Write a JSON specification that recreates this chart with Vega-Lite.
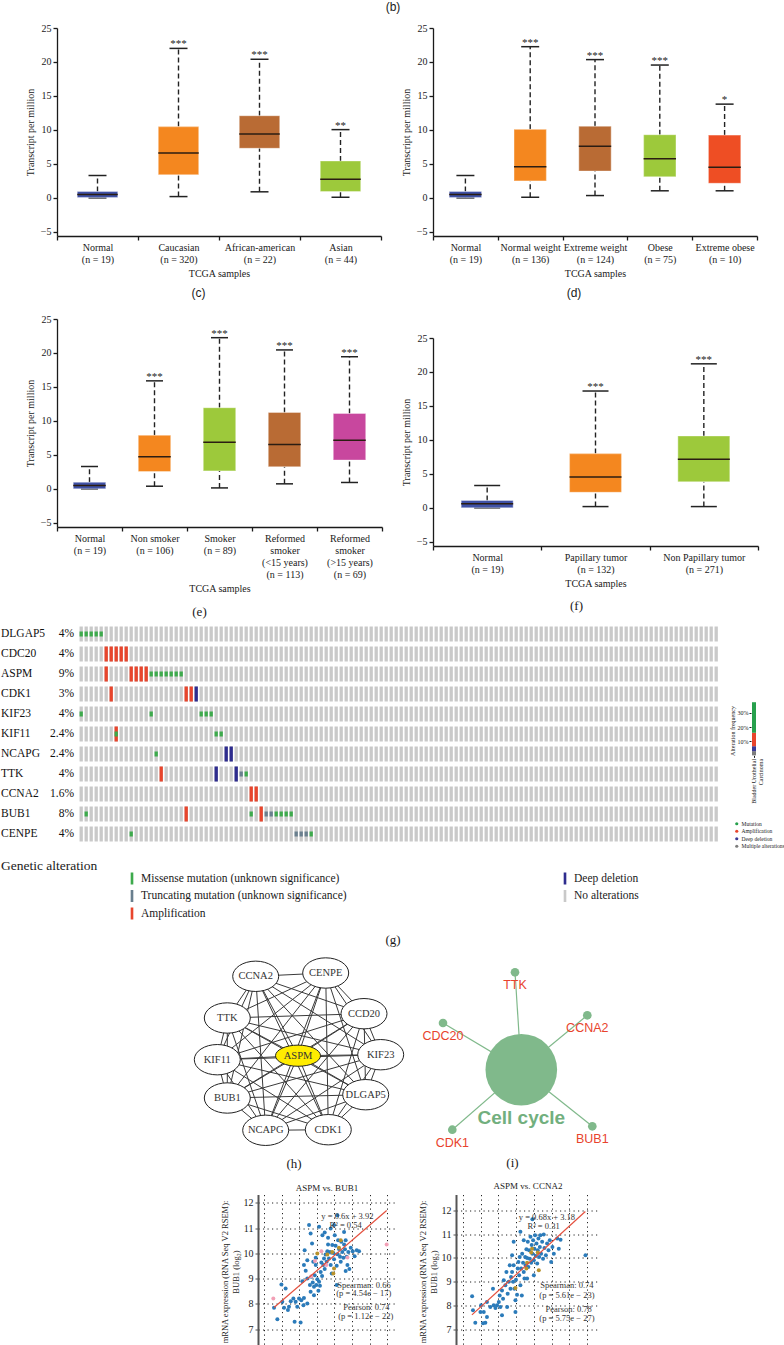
{
"$schema":"https://vega.github.io/schema/vega-lite/v6.json",
"padding":0,
"background":"white",
"title":{"text":"(b)","font":"Liberation Sans","fontSize":12,"anchor":"middle","offset":9},
"spacing":3,
"resolve":{"scale":{"color":"independent"},"legend":{"color":"independent"}},
"datasets":{
"bc":[
{"g":"Normal|(n = 19)","lo":0,"q1":0.05,"med":0.5,"q3":0.95,"hi":3.3,"sig":""},
{"g":"Caucasian|(n = 320)","lo":0.2,"q1":3.4,"med":6.6,"q3":10.5,"hi":22.0,"sig":"***"},
{"g":"African-american|(n = 22)","lo":0.9,"q1":7.3,"med":9.4,"q3":12.1,"hi":20.4,"sig":"***"},
{"g":"Asian|(n = 44)","lo":0.1,"q1":0.95,"med":2.75,"q3":5.45,"hi":10.05,"sig":"**"}],
"bd":[
{"g":"Normal|(n = 19)","lo":0,"q1":0.05,"med":0.5,"q3":0.95,"hi":3.3,"sig":""},
{"g":"Normal weight|(n = 136)","lo":0.1,"q1":2.5,"med":4.6,"q3":10.1,"hi":22.25,"sig":"***"},
{"g":"Extreme weight|(n = 124)","lo":0.35,"q1":3.95,"med":7.6,"q3":10.55,"hi":20.35,"sig":"***"},
{"g":"Obese|(n = 75)","lo":1.05,"q1":3.1,"med":5.75,"q3":9.3,"hi":19.55,"sig":"***"},
{"g":"Extreme obese|(n = 10)","lo":1.05,"q1":2.15,"med":4.5,"q3":9.25,"hi":13.8,"sig":"*"}],
"be":[
{"g":"Normal|(n = 19)","lo":0,"q1":0.02,"med":0.5,"q3":0.98,"hi":3.3,"sig":""},
{"g":"Non smoker|(n = 106)","lo":0.4,"q1":2.55,"med":4.75,"q3":7.9,"hi":15.9,"sig":"***"},
{"g":"Smoker|(n = 89)","lo":0.15,"q1":2.65,"med":6.85,"q3":11.95,"hi":22.25,"sig":"***"},
{"g":"Reformed|smoker|(<15 years)|(n = 113)","lo":0.75,"q1":3.25,"med":6.55,"q3":11.25,"hi":20.45,"sig":"***"},
{"g":"Reformed|smoker|(>15 years)|(n = 69)","lo":0.95,"q1":4.25,"med":7.15,"q3":11.1,"hi":19.45,"sig":"***"}],
"bf":[
{"g":"Normal|(n = 19)","lo":0,"q1":0.02,"med":0.6,"q3":1.1,"hi":3.3,"sig":""},
{"g":"Papillary tumor|(n = 132)","lo":0.2,"q1":2.3,"med":4.55,"q3":8.0,"hi":17.2,"sig":"***"},
{"g":"Non Papillary tumor|(n = 271)","lo":0.2,"q1":3.85,"med":7.15,"q3":10.6,"hi":21.2,"sig":"***"}],
"genes":[{"gene":"DLGAP5","pct":"4%"},{"gene":"CDC20","pct":"4%"},{"gene":"ASPM","pct":"9%"},{"gene":"CDK1","pct":"3%"},{"gene":"KIF23","pct":"4%"},{"gene":"KIF11","pct":"2.4%"},{"gene":"NCAPG","pct":"2.4%"},{"gene":"TTK","pct":"4%"},{"gene":"CCNA2","pct":"1.6%"},{"gene":"BUB1","pct":"8%"},{"gene":"CENPE","pct":"4%"}],
"alts":[
{"gene":"DLGAP5","s":0,"t":"Missense"},{"gene":"DLGAP5","s":1,"t":"Missense"},{"gene":"DLGAP5","s":2,"t":"Missense"},{"gene":"DLGAP5","s":3,"t":"Missense"},{"gene":"DLGAP5","s":4,"t":"Missense"},
{"gene":"CDC20","s":5,"t":"Amplification"},{"gene":"CDC20","s":6,"t":"Amplification"},{"gene":"CDC20","s":7,"t":"Amplification"},{"gene":"CDC20","s":8,"t":"Amplification"},{"gene":"CDC20","s":9,"t":"Amplification"},
{"gene":"ASPM","s":5,"t":"Amplification"},{"gene":"ASPM","s":10,"t":"Amplification"},{"gene":"ASPM","s":11,"t":"Amplification"},{"gene":"ASPM","s":12,"t":"Amplification"},{"gene":"ASPM","s":13,"t":"Amplification"},
{"gene":"ASPM","s":14,"t":"Missense"},{"gene":"ASPM","s":15,"t":"Missense"},{"gene":"ASPM","s":16,"t":"Missense"},{"gene":"ASPM","s":17,"t":"Missense"},{"gene":"ASPM","s":18,"t":"Missense"},{"gene":"ASPM","s":19,"t":"Missense"},{"gene":"ASPM","s":20,"t":"Missense"},
{"gene":"CDK1","s":6,"t":"Amplification"},{"gene":"CDK1","s":21,"t":"Amplification"},{"gene":"CDK1","s":22,"t":"Amplification"},{"gene":"CDK1","s":23,"t":"Deep deletion"},
{"gene":"KIF23","s":0,"t":"Missense"},{"gene":"KIF23","s":14,"t":"Missense"},{"gene":"KIF23","s":24,"t":"Missense"},{"gene":"KIF23","s":25,"t":"Missense"},{"gene":"KIF23","s":26,"t":"Missense"},
{"gene":"KIF11","s":7,"t":"Amplification"},{"gene":"KIF11","s":7,"t":"Missense"},{"gene":"KIF11","s":27,"t":"Missense"},{"gene":"KIF11","s":28,"t":"Missense"},
{"gene":"NCAPG","s":15,"t":"Missense"},{"gene":"NCAPG","s":29,"t":"Deep deletion"},{"gene":"NCAPG","s":30,"t":"Deep deletion"},
{"gene":"TTK","s":16,"t":"Amplification"},{"gene":"TTK","s":27,"t":"Deep deletion"},{"gene":"TTK","s":31,"t":"Deep deletion"},{"gene":"TTK","s":32,"t":"Truncating"},{"gene":"TTK","s":33,"t":"Missense"},
{"gene":"CCNA2","s":34,"t":"Amplification"},{"gene":"CCNA2","s":35,"t":"Amplification"},
{"gene":"BUB1","s":1,"t":"Missense"},{"gene":"BUB1","s":21,"t":"Amplification"},{"gene":"BUB1","s":34,"t":"Missense"},{"gene":"BUB1","s":36,"t":"Amplification"},{"gene":"BUB1","s":37,"t":"Truncating"},{"gene":"BUB1","s":38,"t":"Truncating"},{"gene":"BUB1","s":39,"t":"Missense"},{"gene":"BUB1","s":40,"t":"Missense"},{"gene":"BUB1","s":41,"t":"Missense"},{"gene":"BUB1","s":42,"t":"Missense"},
{"gene":"CENPE","s":10,"t":"Missense"},{"gene":"CENPE","s":43,"t":"Truncating"},{"gene":"CENPE","s":44,"t":"Truncating"},{"gene":"CENPE","s":45,"t":"Truncating"},{"gene":"CENPE","s":46,"t":"Missense"}],
"nodes":[{"n":"CCNA2","x":61.7,"y":20.3},{"n":"CENPE","x":131.7,"y":17},{"n":"CCD20","x":170,"y":57.7},{"n":"KIF23","x":186.7,"y":98.7},{"n":"DLGAP5","x":171.7,"y":138.7},{"n":"CDK1","x":134.3,"y":173.7},{"n":"NCAPG","x":71.7,"y":174.3},{"n":"BUB1","x":33.3,"y":142},{"n":"KIF11","x":23.3,"y":103.7},{"n":"TTK","x":33.3,"y":62},{"n":"ASPM","x":104,"y":99.7}],
"edges":[
{"a":"CCNA2","b":"CENPE"},{"a":"CCNA2","b":"CCD20"},{"a":"CCNA2","b":"KIF23"},{"a":"CCNA2","b":"DLGAP5"},{"a":"CCNA2","b":"CDK1"},{"a":"CCNA2","b":"NCAPG"},{"a":"CCNA2","b":"BUB1"},{"a":"CCNA2","b":"KIF11"},{"a":"CCNA2","b":"TTK"},{"a":"CCNA2","b":"ASPM"},
{"a":"CENPE","b":"CCD20"},{"a":"CENPE","b":"KIF23"},{"a":"CENPE","b":"DLGAP5"},{"a":"CENPE","b":"CDK1"},{"a":"CENPE","b":"NCAPG"},{"a":"CENPE","b":"BUB1"},{"a":"CENPE","b":"KIF11"},{"a":"CENPE","b":"TTK"},{"a":"CENPE","b":"ASPM"},
{"a":"CCD20","b":"KIF23"},{"a":"CCD20","b":"DLGAP5"},{"a":"CCD20","b":"CDK1"},{"a":"CCD20","b":"NCAPG"},{"a":"CCD20","b":"BUB1"},{"a":"CCD20","b":"KIF11"},{"a":"CCD20","b":"TTK"},{"a":"CCD20","b":"ASPM"},
{"a":"KIF23","b":"DLGAP5"},{"a":"KIF23","b":"CDK1"},{"a":"KIF23","b":"NCAPG"},{"a":"KIF23","b":"BUB1"},{"a":"KIF23","b":"KIF11"},{"a":"KIF23","b":"TTK"},{"a":"KIF23","b":"ASPM"},
{"a":"DLGAP5","b":"CDK1"},{"a":"DLGAP5","b":"NCAPG"},{"a":"DLGAP5","b":"BUB1"},{"a":"DLGAP5","b":"KIF11"},{"a":"DLGAP5","b":"TTK"},{"a":"DLGAP5","b":"ASPM"},
{"a":"CDK1","b":"NCAPG"},{"a":"CDK1","b":"BUB1"},{"a":"CDK1","b":"KIF11"},{"a":"CDK1","b":"TTK"},{"a":"CDK1","b":"ASPM"},
{"a":"NCAPG","b":"BUB1"},{"a":"NCAPG","b":"KIF11"},{"a":"NCAPG","b":"TTK"},{"a":"NCAPG","b":"ASPM"},
{"a":"BUB1","b":"KIF11"},{"a":"BUB1","b":"TTK"},{"a":"BUB1","b":"ASPM"},
{"a":"KIF11","b":"TTK"},{"a":"KIF11","b":"ASPM"},
{"a":"TTK","b":"ASPM"}],
"hub":[{"term":"Cell cycle","x":97.3,"y":113.7}],
"cc":[{"gene":"TTK","x":91,"y":16.3},{"gene":"CDC20","x":19,"y":67},{"gene":"CCNA2","x":163.3,"y":59.3},{"gene":"CDK1","x":28.3,"y":173.7},{"gene":"BUB1","x":168.3,"y":170.3}],
"scL":[
{"x":6.57,"y":7.85,"c":"n"},{"x":6.76,"y":7.4,"c":"n"},{"x":6.99,"y":8.77,"c":"n"},{"x":7.04,"y":8.09,"c":"n"},{"x":7.14,"y":7.85,"c":"n"},{"x":7.23,"y":8.61,"c":"n"},{"x":7.36,"y":7.76,"c":"n"},{"x":7.42,"y":7.89,"c":"n"},{"x":7.52,"y":8.11,"c":"n"},{"x":7.67,"y":8.22,"c":"n"},{"x":7.74,"y":7.3,"c":"n"},{"x":7.8,"y":8.09,"c":"n"},{"x":7.89,"y":7.89,"c":"n"},{"x":7.99,"y":8.22,"c":"n"},{"x":8.08,"y":7.27,"c":"n"},{"x":8.12,"y":8.15,"c":"n"},{"x":8.24,"y":7.95,"c":"n"},{"x":8.27,"y":8.24,"c":"n"},{"x":8.18,"y":8.9,"c":"n"},{"x":8.37,"y":9.31,"c":"n"},{"x":8.46,"y":9.01,"c":"n"},{"x":8.61,"y":8.75,"c":"n"},{"x":8.65,"y":8.48,"c":"n"},{"x":8.69,"y":9.08,"c":"n"},{"x":8.77,"y":8.85,"c":"n"},{"x":8.84,"y":8.68,"c":"n"},{"x":8.88,"y":9.14,"c":"n"},{"x":8.94,"y":9.54,"c":"n"},{"x":8.97,"y":8.75,"c":"n"},{"x":9.03,"y":8.98,"c":"n"},{"x":9.09,"y":8.52,"c":"n"},{"x":9.13,"y":8.88,"c":"n"},{"x":9.18,"y":8.72,"c":"n"},{"x":9.22,"y":9.27,"c":"n"},{"x":9.3,"y":9.11,"c":"n"},{"x":9.37,"y":9.54,"c":"n"},{"x":9.41,"y":9.8,"c":"n"},{"x":9.45,"y":9.38,"c":"n"},{"x":9.5,"y":9.96,"c":"n"},{"x":9.56,"y":9.67,"c":"n"},{"x":9.6,"y":10.09,"c":"n"},{"x":9.64,"y":10.35,"c":"n"},{"x":9.69,"y":9.8,"c":"n"},{"x":9.75,"y":10.06,"c":"n"},{"x":9.79,"y":9.54,"c":"n"},{"x":9.85,"y":9.21,"c":"n"},{"x":9.88,"y":10.33,"c":"n"},{"x":9.94,"y":10.02,"c":"n"},{"x":9.98,"y":9.77,"c":"n"},{"x":10.02,"y":10.72,"c":"n"},{"x":10.07,"y":10.3,"c":"n"},{"x":10.13,"y":9.51,"c":"n"},{"x":10.17,"y":9.97,"c":"n"},{"x":10.21,"y":10.52,"c":"n"},{"x":10.26,"y":10.17,"c":"n"},{"x":10.32,"y":9.87,"c":"n"},{"x":10.36,"y":9.67,"c":"n"},{"x":10.39,"y":10.46,"c":"n"},{"x":10.45,"y":10.06,"c":"n"},{"x":10.51,"y":9.83,"c":"n"},{"x":10.55,"y":10.35,"c":"n"},{"x":10.6,"y":10.16,"c":"n"},{"x":10.64,"y":10.52,"c":"n"},{"x":10.7,"y":9.87,"c":"n"},{"x":10.74,"y":9.54,"c":"n"},{"x":10.79,"y":10.06,"c":"n"},{"x":10.85,"y":9.38,"c":"n"},{"x":10.93,"y":10.22,"c":"n"},{"x":11.04,"y":10.09,"c":"n"},{"x":11.15,"y":9.89,"c":"n"},{"x":11.27,"y":10.13,"c":"n"},{"x":11.4,"y":10.09,"c":"n"},{"x":8.65,"y":10.79,"c":"n"},{"x":8.73,"y":10.39,"c":"n"},{"x":8.56,"y":11.12,"c":"n"},{"x":9.13,"y":11.05,"c":"n"},{"x":9.26,"y":9.64,"c":"n"},{"x":9.32,"y":10.72,"c":"n"},{"x":9.45,"y":10.83,"c":"n"},{"x":9.64,"y":10.62,"c":"n"},{"x":8.94,"y":9.83,"c":"n"},{"x":8.8,"y":9.67,"c":"n"},{"x":8.46,"y":9.73,"c":"n"},{"x":8.27,"y":9.54,"c":"n"},{"x":8.31,"y":10.13,"c":"n"},{"x":9.79,"y":10.99,"c":"n"},{"x":9.98,"y":11.12,"c":"n"},{"x":10.17,"y":11.51,"c":"n"},{"x":10.55,"y":10.85,"c":"n"},{"x":8.84,"y":8.35,"c":"n"},{"x":8.46,"y":8.02,"c":"n"},{"x":10.13,"y":8.75,"c":"n"},{"x":10.64,"y":9.3,"c":"n"},
{"x":9.03,"y":10.0,"c":"g"},{"x":9.6,"y":9.96,"c":"g"},{"x":9.88,"y":10.06,"c":"g"},{"x":10.36,"y":10.52,"c":"g"},{"x":9.98,"y":9.4,"c":"g"},{"x":9.94,"y":9.21,"c":"g"},{"x":10.26,"y":10.22,"c":"g"},
{"x":6.53,"y":8.22,"c":"p"},{"x":8.9,"y":9.7,"c":"p"},{"x":9.26,"y":10.09,"c":"p"},{"x":9.54,"y":9.54,"c":"p"},{"x":8.69,"y":9.1,"c":"p"},{"x":12.97,"y":10.35,"c":"p"},{"x":10.74,"y":9.84,"c":"p"}],
"scR":[
{"x":6.51,"y":8.38,"c":"n"},{"x":6.56,"y":7.79,"c":"n"},{"x":6.69,"y":7.27,"c":"n"},{"x":6.98,"y":7.72,"c":"n"},{"x":7.02,"y":8.0,"c":"n"},{"x":7.17,"y":7.72,"c":"n"},{"x":7.26,"y":7.27,"c":"n"},{"x":7.35,"y":7.51,"c":"n"},{"x":7.13,"y":7.25,"c":"n"},{"x":7.35,"y":8.14,"c":"n"},{"x":7.54,"y":7.93,"c":"n"},{"x":7.69,"y":8.7,"c":"n"},{"x":7.73,"y":8.0,"c":"n"},{"x":7.83,"y":7.89,"c":"n"},{"x":7.92,"y":8.0,"c":"n"},{"x":8.02,"y":8.14,"c":"n"},{"x":8.07,"y":8.42,"c":"n"},{"x":8.11,"y":7.93,"c":"n"},{"x":8.2,"y":8.63,"c":"n"},{"x":8.26,"y":8.28,"c":"n"},{"x":8.3,"y":9.06,"c":"n"},{"x":8.39,"y":8.85,"c":"n"},{"x":8.45,"y":9.41,"c":"n"},{"x":8.52,"y":8.49,"c":"n"},{"x":8.58,"y":8.99,"c":"n"},{"x":8.64,"y":9.69,"c":"n"},{"x":8.68,"y":8.7,"c":"n"},{"x":8.71,"y":9.2,"c":"n"},{"x":8.77,"y":9.41,"c":"n"},{"x":8.83,"y":8.99,"c":"n"},{"x":8.86,"y":9.69,"c":"n"},{"x":8.9,"y":8.7,"c":"n"},{"x":8.96,"y":8.21,"c":"n"},{"x":8.99,"y":9.08,"c":"n"},{"x":9.05,"y":8.45,"c":"n"},{"x":9.09,"y":9.55,"c":"n"},{"x":9.13,"y":9.83,"c":"n"},{"x":9.17,"y":9.27,"c":"n"},{"x":9.2,"y":10.04,"c":"n"},{"x":9.24,"y":8.85,"c":"n"},{"x":9.28,"y":9.55,"c":"n"},{"x":9.32,"y":8.42,"c":"n"},{"x":9.34,"y":10.18,"c":"n"},{"x":9.39,"y":9.8,"c":"n"},{"x":9.43,"y":9.41,"c":"n"},{"x":9.47,"y":9.13,"c":"n"},{"x":9.51,"y":10.04,"c":"n"},{"x":9.54,"y":9.69,"c":"n"},{"x":9.58,"y":10.37,"c":"n"},{"x":9.62,"y":10.0,"c":"n"},{"x":9.66,"y":10.68,"c":"n"},{"x":9.69,"y":9.62,"c":"n"},{"x":9.73,"y":10.32,"c":"n"},{"x":9.77,"y":9.97,"c":"n"},{"x":9.81,"y":10.89,"c":"n"},{"x":9.85,"y":9.8,"c":"n"},{"x":9.88,"y":10.54,"c":"n"},{"x":9.92,"y":10.18,"c":"n"},{"x":9.96,"y":10.75,"c":"n"},{"x":10.0,"y":9.9,"c":"n"},{"x":10.03,"y":10.39,"c":"n"},{"x":10.07,"y":10.96,"c":"n"},{"x":10.11,"y":10.08,"c":"n"},{"x":10.15,"y":10.61,"c":"n"},{"x":10.19,"y":9.76,"c":"n"},{"x":10.22,"y":10.32,"c":"n"},{"x":10.26,"y":10.82,"c":"n"},{"x":10.3,"y":10.04,"c":"n"},{"x":10.34,"y":10.46,"c":"n"},{"x":10.37,"y":10.96,"c":"n"},{"x":10.41,"y":10.18,"c":"n"},{"x":10.47,"y":10.68,"c":"n"},{"x":10.52,"y":9.97,"c":"n"},{"x":10.56,"y":10.99,"c":"n"},{"x":10.6,"y":10.42,"c":"n"},{"x":10.68,"y":10.11,"c":"n"},{"x":10.75,"y":10.61,"c":"n"},{"x":10.83,"y":10.32,"c":"n"},{"x":10.9,"y":10.75,"c":"n"},{"x":10.98,"y":9.83,"c":"n"},{"x":11.05,"y":10.46,"c":"n"},{"x":11.13,"y":10.18,"c":"n"},{"x":11.32,"y":10.82,"c":"n"},{"x":11.41,"y":10.39,"c":"n"},{"x":11.51,"y":10.77,"c":"n"},{"x":12.92,"y":10.11,"c":"n"},{"x":8.77,"y":10.11,"c":"n"},{"x":9.24,"y":11.1,"c":"n"},{"x":8.86,"y":10.68,"c":"n"},{"x":9.92,"y":11.63,"c":"n"},{"x":9.43,"y":10.75,"c":"n"},{"x":9.62,"y":9.13,"c":"n"},{"x":10.0,"y":9.27,"c":"n"},{"x":8.96,"y":7.72,"c":"n"},{"x":8.49,"y":7.93,"c":"n"},{"x":8.2,"y":7.58,"c":"n"},
{"x":9.58,"y":9.55,"c":"g"},{"x":9.85,"y":10.23,"c":"g"},{"x":9.9,"y":10.39,"c":"g"},{"x":10.22,"y":10.23,"c":"g"},{"x":10.28,"y":9.48,"c":"g"},{"x":8.96,"y":8.73,"c":"g"},{"x":9.62,"y":9.8,"c":"g"}],
"fitL":[{"x":6.57,"y":7.86},{"x":12.97,"y":11.7}],
"fitR":[{"x":6.5,"y":7.6},{"x":12.91,"y":11.96}],
"annL":[{"t":"y = 0.6x + 3.92","x":10.74,"y":11.49},{"t":"R² = 0.54","x":10.64,"y":11.12},{"t":"Spearman: 0.66","x":11.68,"y":8.77},{"t":"(p = 4.54e − 17)","x":11.67,"y":8.42},{"t":"Pearson: 0.74","x":11.82,"y":7.89},{"t":"(p = 1.12e − 22)","x":11.78,"y":7.52}],
"annR":[{"t":"y = 0.68x + 3.18","x":10.74,"y":11.73},{"t":"R² = 0.31","x":10.55,"y":11.35},{"t":"Spearman: 0.74","x":11.87,"y":8.85},{"t":"(p = 5.61e − 23)","x":11.87,"y":8.43},{"t":"Pearson: 0.78","x":11.97,"y":7.86},{"t":"(p = 5.75e − 27)","x":11.87,"y":7.47}]
},
"vconcat":[
{"hconcat":[
 {"width":7,"height":1,"data":{"values":[]},"mark":"point"},
 {"vconcat":[
  {"width":324,"height":208,
   "title":{"text":"(c)","orient":"bottom","font":"Liberation Sans","fontSize":12,"offset":10,"dx":-20.5},
   "data":{"name":"bc"},
   "encoding":{"x":{"field":"g","type":"nominal","sort":null,"scale":{"paddingInner":0,"paddingOuter":0},"axis":{"title":"TCGA samples","labelExpr":"isValid(datum.value) ? split(datum.value, '|') : ''","labelAngle":0,"tickBand":"extent","tickSize":4,"labelPadding":2,"labelFontSize":10,"labelLineHeight":12.3,"titleFontSize":10,"titlePadding":4,"domainWidth":1.3,"tickWidth":1.3,"labelOverlap":false}}},
   "layer":[
    {"mark":{"type":"rule","strokeDash":[5,3],"strokeWidth":1.4,"color":"#222"},"encoding":{"y":{"field":"q3","type":"quantitative","scale":{"domain":[-5.6,25],"nice":false},"title":"Transcript per million","axis":{"values":[-5,0,5,10,15,20,25],"tickSize":4,"labelPadding":2,"labelFontSize":10,"titleFontSize":10,"titlePadding":5,"domainWidth":1.3,"tickWidth":1.3,"labelOverlap":false}},"y2":{"field":"hi"}}},
    {"mark":{"type":"rule","strokeDash":[5,3],"strokeWidth":1.4,"color":"#222"},"encoding":{"y":{"field":"lo","type":"quantitative","scale":{"domain":[-5.6,25],"nice":false},"title":"Transcript per million","axis":{"values":[-5,0,5,10,15,20,25],"tickSize":4,"labelPadding":2,"labelFontSize":10,"titleFontSize":10,"titlePadding":5,"domainWidth":1.3,"tickWidth":1.3,"labelOverlap":false}},"y2":{"field":"q1"}}},
    {"mark":{"type":"tick","size":18,"thickness":1.5,"color":"#222","opacity":1},"encoding":{"y":{"field":"hi","type":"quantitative","scale":{"domain":[-5.6,25],"nice":false},"title":"Transcript per million","axis":{"values":[-5,0,5,10,15,20,25],"tickSize":4,"labelPadding":2,"labelFontSize":10,"titleFontSize":10,"titlePadding":5,"domainWidth":1.3,"tickWidth":1.3,"labelOverlap":false}}}},
    {"mark":{"type":"tick","size":18,"thickness":1.5,"color":"#222","opacity":1},"encoding":{"y":{"field":"lo","type":"quantitative","scale":{"domain":[-5.6,25],"nice":false},"title":"Transcript per million","axis":{"values":[-5,0,5,10,15,20,25],"tickSize":4,"labelPadding":2,"labelFontSize":10,"titleFontSize":10,"titlePadding":5,"domainWidth":1.3,"tickWidth":1.3,"labelOverlap":false}}}},
    {"mark":{"type":"bar","width":{"band":0.5},"stroke":"#ffffff","strokeOpacity":0.35,"strokeWidth":1.2},"encoding":{"y":{"field":"q1","type":"quantitative","scale":{"domain":[-5.6,25],"nice":false},"title":"Transcript per million","axis":{"values":[-5,0,5,10,15,20,25],"tickSize":4,"labelPadding":2,"labelFontSize":10,"titleFontSize":10,"titlePadding":5,"domainWidth":1.3,"tickWidth":1.3,"labelOverlap":false}},"y2":{"field":"q3"},"color":{"field":"g","type":"nominal","scale":{"domain":["Normal|(n = 19)","Caucasian|(n = 320)","African-american|(n = 22)","Asian|(n = 44)"],"range":["#3F51A6","#F4871F","#B96B34","#9DC93B"]},"legend":null}}},
    {"mark":{"type":"tick","size":40.5,"thickness":1.5,"color":"#2b1d12","opacity":1},"encoding":{"y":{"field":"med","type":"quantitative","scale":{"domain":[-5.6,25],"nice":false},"title":"Transcript per million","axis":{"values":[-5,0,5,10,15,20,25],"tickSize":4,"labelPadding":2,"labelFontSize":10,"titleFontSize":10,"titlePadding":5,"domainWidth":1.3,"tickWidth":1.3,"labelOverlap":false}}}},
    {"mark":{"type":"text","baseline":"alphabetic","dy":-1,"fontSize":11,"color":"#222"},"encoding":{"y":{"field":"hi","type":"quantitative","scale":{"domain":[-5.6,25],"nice":false},"title":"Transcript per million","axis":{"values":[-5,0,5,10,15,20,25],"tickSize":4,"labelPadding":2,"labelFontSize":10,"titleFontSize":10,"titlePadding":5,"domainWidth":1.3,"tickWidth":1.3,"labelOverlap":false}},"text":{"field":"sig"}}}
   ]},
  {"width":325,"height":208,
   "title":{"text":"(e)","orient":"bottom","fontSize":13,"offset":12,"dx":-20},
   "data":{"name":"be"},
   "encoding":{"x":{"field":"g","type":"nominal","sort":null,"scale":{"paddingInner":0,"paddingOuter":0},"axis":{"title":"TCGA samples","labelExpr":"isValid(datum.value) ? split(datum.value, '|') : ''","labelAngle":0,"tickBand":"extent","tickSize":4,"labelPadding":2,"labelFontSize":10,"labelLineHeight":12.2,"titleFontSize":10,"titlePadding":4,"domainWidth":1.3,"tickWidth":1.3,"labelOverlap":false}}},
   "layer":[
    {"mark":{"type":"rule","strokeDash":[5,3],"strokeWidth":1.4,"color":"#222"},"encoding":{"y":{"field":"q3","type":"quantitative","scale":{"domain":[-5.6,25],"nice":false},"title":"Transcript per million","axis":{"values":[-5,0,5,10,15,20,25],"tickSize":4,"labelPadding":2,"labelFontSize":10,"titleFontSize":10,"titlePadding":5,"domainWidth":1.3,"tickWidth":1.3,"labelOverlap":false}},"y2":{"field":"hi"}}},
    {"mark":{"type":"rule","strokeDash":[5,3],"strokeWidth":1.4,"color":"#222"},"encoding":{"y":{"field":"lo","type":"quantitative","scale":{"domain":[-5.6,25],"nice":false},"title":"Transcript per million","axis":{"values":[-5,0,5,10,15,20,25],"tickSize":4,"labelPadding":2,"labelFontSize":10,"titleFontSize":10,"titlePadding":5,"domainWidth":1.3,"tickWidth":1.3,"labelOverlap":false}},"y2":{"field":"q1"}}},
    {"mark":{"type":"tick","size":17,"thickness":1.5,"color":"#222","opacity":1},"encoding":{"y":{"field":"hi","type":"quantitative","scale":{"domain":[-5.6,25],"nice":false},"title":"Transcript per million","axis":{"values":[-5,0,5,10,15,20,25],"tickSize":4,"labelPadding":2,"labelFontSize":10,"titleFontSize":10,"titlePadding":5,"domainWidth":1.3,"tickWidth":1.3,"labelOverlap":false}}}},
    {"mark":{"type":"tick","size":17,"thickness":1.5,"color":"#222","opacity":1},"encoding":{"y":{"field":"lo","type":"quantitative","scale":{"domain":[-5.6,25],"nice":false},"title":"Transcript per million","axis":{"values":[-5,0,5,10,15,20,25],"tickSize":4,"labelPadding":2,"labelFontSize":10,"titleFontSize":10,"titlePadding":5,"domainWidth":1.3,"tickWidth":1.3,"labelOverlap":false}}}},
    {"mark":{"type":"bar","width":{"band":0.5},"stroke":"#ffffff","strokeOpacity":0.35,"strokeWidth":1.2},"encoding":{"y":{"field":"q1","type":"quantitative","scale":{"domain":[-5.6,25],"nice":false},"title":"Transcript per million","axis":{"values":[-5,0,5,10,15,20,25],"tickSize":4,"labelPadding":2,"labelFontSize":10,"titleFontSize":10,"titlePadding":5,"domainWidth":1.3,"tickWidth":1.3,"labelOverlap":false}},"y2":{"field":"q3"},"color":{"field":"g","type":"nominal","scale":{"domain":["Normal|(n = 19)","Non smoker|(n = 106)","Smoker|(n = 89)","Reformed|smoker|(<15 years)|(n = 113)","Reformed|smoker|(>15 years)|(n = 69)"],"range":["#3F51A6","#F4871F","#9DC93B","#B96B34","#C8479E"]},"legend":null}}},
    {"mark":{"type":"tick","size":32.5,"thickness":1.5,"color":"#2b1d12","opacity":1},"encoding":{"y":{"field":"med","type":"quantitative","scale":{"domain":[-5.6,25],"nice":false},"title":"Transcript per million","axis":{"values":[-5,0,5,10,15,20,25],"tickSize":4,"labelPadding":2,"labelFontSize":10,"titleFontSize":10,"titlePadding":5,"domainWidth":1.3,"tickWidth":1.3,"labelOverlap":false}}}},
    {"mark":{"type":"text","baseline":"alphabetic","dy":-1,"fontSize":11,"color":"#222"},"encoding":{"y":{"field":"hi","type":"quantitative","scale":{"domain":[-5.6,25],"nice":false},"title":"Transcript per million","axis":{"values":[-5,0,5,10,15,20,25],"tickSize":4,"labelPadding":2,"labelFontSize":10,"titleFontSize":10,"titlePadding":5,"domainWidth":1.3,"tickWidth":1.3,"labelOverlap":false}},"text":{"field":"sig"}}}
   ]}
 ],"spacing":13,"resolve":{"scale":{"color":"independent"},"legend":{"color":"independent"}}},
 {"vconcat":[
  {"width":324,"height":208,
   "title":{"text":"(d)","orient":"bottom","font":"Liberation Sans","fontSize":12,"offset":10,"dx":-21},
   "data":{"name":"bd"},
   "encoding":{"x":{"field":"g","type":"nominal","sort":null,"scale":{"paddingInner":0,"paddingOuter":0},"axis":{"title":"TCGA samples","labelExpr":"isValid(datum.value) ? split(datum.value, '|') : ''","labelAngle":0,"tickBand":"extent","tickSize":4,"labelPadding":2,"labelFontSize":10,"labelLineHeight":12.3,"titleFontSize":10,"titlePadding":4,"domainWidth":1.3,"tickWidth":1.3,"labelOverlap":false}}},
   "layer":[
    {"mark":{"type":"rule","strokeDash":[5,3],"strokeWidth":1.4,"color":"#222"},"encoding":{"y":{"field":"q3","type":"quantitative","scale":{"domain":[-5.6,25],"nice":false},"title":"Transcript per million","axis":{"values":[-5,0,5,10,15,20,25],"tickSize":4,"labelPadding":2,"labelFontSize":10,"titleFontSize":10,"titlePadding":5,"domainWidth":1.3,"tickWidth":1.3,"labelOverlap":false}},"y2":{"field":"hi"}}},
    {"mark":{"type":"rule","strokeDash":[5,3],"strokeWidth":1.4,"color":"#222"},"encoding":{"y":{"field":"lo","type":"quantitative","scale":{"domain":[-5.6,25],"nice":false},"title":"Transcript per million","axis":{"values":[-5,0,5,10,15,20,25],"tickSize":4,"labelPadding":2,"labelFontSize":10,"titleFontSize":10,"titlePadding":5,"domainWidth":1.3,"tickWidth":1.3,"labelOverlap":false}},"y2":{"field":"q1"}}},
    {"mark":{"type":"tick","size":18,"thickness":1.5,"color":"#222","opacity":1},"encoding":{"y":{"field":"hi","type":"quantitative","scale":{"domain":[-5.6,25],"nice":false},"title":"Transcript per million","axis":{"values":[-5,0,5,10,15,20,25],"tickSize":4,"labelPadding":2,"labelFontSize":10,"titleFontSize":10,"titlePadding":5,"domainWidth":1.3,"tickWidth":1.3,"labelOverlap":false}}}},
    {"mark":{"type":"tick","size":18,"thickness":1.5,"color":"#222","opacity":1},"encoding":{"y":{"field":"lo","type":"quantitative","scale":{"domain":[-5.6,25],"nice":false},"title":"Transcript per million","axis":{"values":[-5,0,5,10,15,20,25],"tickSize":4,"labelPadding":2,"labelFontSize":10,"titleFontSize":10,"titlePadding":5,"domainWidth":1.3,"tickWidth":1.3,"labelOverlap":false}}}},
    {"mark":{"type":"bar","width":{"band":0.5},"stroke":"#ffffff","strokeOpacity":0.35,"strokeWidth":1.2},"encoding":{"y":{"field":"q1","type":"quantitative","scale":{"domain":[-5.6,25],"nice":false},"title":"Transcript per million","axis":{"values":[-5,0,5,10,15,20,25],"tickSize":4,"labelPadding":2,"labelFontSize":10,"titleFontSize":10,"titlePadding":5,"domainWidth":1.3,"tickWidth":1.3,"labelOverlap":false}},"y2":{"field":"q3"},"color":{"field":"g","type":"nominal","scale":{"domain":["Normal|(n = 19)","Normal weight|(n = 136)","Extreme weight|(n = 124)","Obese|(n = 75)","Extreme obese|(n = 10)"],"range":["#3F51A6","#F4871F","#B96B34","#9DC93B","#EE4E24"]},"legend":null}}},
    {"mark":{"type":"tick","size":32.4,"thickness":1.5,"color":"#2b1d12","opacity":1},"encoding":{"y":{"field":"med","type":"quantitative","scale":{"domain":[-5.6,25],"nice":false},"title":"Transcript per million","axis":{"values":[-5,0,5,10,15,20,25],"tickSize":4,"labelPadding":2,"labelFontSize":10,"titleFontSize":10,"titlePadding":5,"domainWidth":1.3,"tickWidth":1.3,"labelOverlap":false}}}},
    {"mark":{"type":"text","baseline":"alphabetic","dy":-1,"fontSize":11,"color":"#222"},"encoding":{"y":{"field":"hi","type":"quantitative","scale":{"domain":[-5.6,25],"nice":false},"title":"Transcript per million","axis":{"values":[-5,0,5,10,15,20,25],"tickSize":4,"labelPadding":2,"labelFontSize":10,"titleFontSize":10,"titlePadding":5,"domainWidth":1.3,"tickWidth":1.3,"labelOverlap":false}},"text":{"field":"sig"}}}
   ]},
  {"width":325,"height":208,
   "title":{"text":"(f)","orient":"bottom","fontSize":13,"offset":12,"dx":-19},
   "data":{"name":"bf"},
   "encoding":{"x":{"field":"g","type":"nominal","sort":null,"scale":{"paddingInner":0,"paddingOuter":0},"axis":{"title":"TCGA samples","labelExpr":"isValid(datum.value) ? split(datum.value, '|') : ''","labelAngle":0,"tickBand":"extent","tickSize":4,"labelPadding":2,"labelFontSize":10,"labelLineHeight":12.3,"titleFontSize":10,"titlePadding":4,"domainWidth":1.3,"tickWidth":1.3,"labelOverlap":false}}},
   "layer":[
    {"mark":{"type":"rule","strokeDash":[5,3],"strokeWidth":1.4,"color":"#222"},"encoding":{"y":{"field":"q3","type":"quantitative","scale":{"domain":[-5.6,25],"nice":false},"title":"Transcript per million","axis":{"values":[-5,0,5,10,15,20,25],"tickSize":4,"labelPadding":2,"labelFontSize":10,"titleFontSize":10,"titlePadding":5,"domainWidth":1.3,"tickWidth":1.3,"labelOverlap":false}},"y2":{"field":"hi"}}},
    {"mark":{"type":"rule","strokeDash":[5,3],"strokeWidth":1.4,"color":"#222"},"encoding":{"y":{"field":"lo","type":"quantitative","scale":{"domain":[-5.6,25],"nice":false},"title":"Transcript per million","axis":{"values":[-5,0,5,10,15,20,25],"tickSize":4,"labelPadding":2,"labelFontSize":10,"titleFontSize":10,"titlePadding":5,"domainWidth":1.3,"tickWidth":1.3,"labelOverlap":false}},"y2":{"field":"q1"}}},
    {"mark":{"type":"tick","size":26,"thickness":1.5,"color":"#222","opacity":1},"encoding":{"y":{"field":"hi","type":"quantitative","scale":{"domain":[-5.6,25],"nice":false},"title":"Transcript per million","axis":{"values":[-5,0,5,10,15,20,25],"tickSize":4,"labelPadding":2,"labelFontSize":10,"titleFontSize":10,"titlePadding":5,"domainWidth":1.3,"tickWidth":1.3,"labelOverlap":false}}}},
    {"mark":{"type":"tick","size":26,"thickness":1.5,"color":"#222","opacity":1},"encoding":{"y":{"field":"lo","type":"quantitative","scale":{"domain":[-5.6,25],"nice":false},"title":"Transcript per million","axis":{"values":[-5,0,5,10,15,20,25],"tickSize":4,"labelPadding":2,"labelFontSize":10,"titleFontSize":10,"titlePadding":5,"domainWidth":1.3,"tickWidth":1.3,"labelOverlap":false}}}},
    {"mark":{"type":"bar","width":{"band":0.48},"stroke":"#ffffff","strokeOpacity":0.35,"strokeWidth":1.2},"encoding":{"y":{"field":"q1","type":"quantitative","scale":{"domain":[-5.6,25],"nice":false},"title":"Transcript per million","axis":{"values":[-5,0,5,10,15,20,25],"tickSize":4,"labelPadding":2,"labelFontSize":10,"titleFontSize":10,"titlePadding":5,"domainWidth":1.3,"tickWidth":1.3,"labelOverlap":false}},"y2":{"field":"q3"},"color":{"field":"g","type":"nominal","scale":{"domain":["Normal|(n = 19)","Papillary tumor|(n = 132)","Non Papillary tumor|(n = 271)"],"range":["#3F51A6","#F4871F","#9DC93B"]},"legend":null}}},
    {"mark":{"type":"tick","size":52,"thickness":1.5,"color":"#2b1d12","opacity":1},"encoding":{"y":{"field":"med","type":"quantitative","scale":{"domain":[-5.6,25],"nice":false},"title":"Transcript per million","axis":{"values":[-5,0,5,10,15,20,25],"tickSize":4,"labelPadding":2,"labelFontSize":10,"titleFontSize":10,"titlePadding":5,"domainWidth":1.3,"tickWidth":1.3,"labelOverlap":false}}}},
    {"mark":{"type":"text","baseline":"alphabetic","dy":-1,"fontSize":11,"color":"#222"},"encoding":{"y":{"field":"hi","type":"quantitative","scale":{"domain":[-5.6,25],"nice":false},"title":"Transcript per million","axis":{"values":[-5,0,5,10,15,20,25],"tickSize":4,"labelPadding":2,"labelFontSize":10,"titleFontSize":10,"titlePadding":5,"domainWidth":1.3,"tickWidth":1.3,"labelOverlap":false}},"text":{"field":"sig"}}}
   ]}
 ],"spacing":32,"resolve":{"scale":{"color":"independent"},"legend":{"color":"independent"}}}
],"spacing":16,"resolve":{"scale":{"color":"independent"},"legend":{"color":"independent"}}},
{"hconcat":[
 {"width":717,"height":220,
  "layer":[
   {"data":{"name":"genes"},"mark":{"type":"rule","strokeWidth":15,"strokeDash":[3.3,1.7],"color":"#c9c9c9"},"encoding":{"y":{"field":"gene","type":"nominal","sort":null,"scale":{"domain":["DLGAP5","CDC20","ASPM","CDK1","KIF23","KIF11","NCAPG","TTK","CCNA2","BUB1","CENPE"],"paddingInner":0.25,"paddingOuter":0.125},"axis":null},"x":{"datum":-0.33,"type":"quantitative","scale":{"domain":[-16.04,127.36],"nice":false,"zero":false},"axis":null},"x2":{"datum":127.33}}},
   {"data":{"name":"alts"},"transform":[{"filter":"datum.t === 'Amplification' || datum.t === 'Deep deletion'"}],"mark":{"type":"tick","thickness":3.3,"size":15,"opacity":1},"encoding":{"x":{"field":"s","type":"quantitative","scale":{"domain":[-16.04,127.36],"nice":false,"zero":false},"axis":null},"y":{"field":"gene","type":"nominal","sort":null,"scale":{"domain":["DLGAP5","CDC20","ASPM","CDK1","KIF23","KIF11","NCAPG","TTK","CCNA2","BUB1","CENPE"],"paddingInner":0.25,"paddingOuter":0.125},"axis":null},"color":{"field":"t","type":"nominal","scale":{"domain":["Missense","Truncating","Amplification","Deep deletion","No alterations"],"range":["#3DAA4C","#697F8E","#E8452C","#2E2C8E","#C9C9C9"]},"legend":{"orient":"none","legendX":0,"legendY":248.5,"title":"Genetic alteration","titleOrient":"left","titleAnchor":"start","titleBaseline":"bottom","titleFontSize":13.5,"titlePadding":28,"columns":2,"columnPadding":212,"rowPadding":5.5,"symbolType":"M-0.22,-1H0.22V1H-0.22Z","symbolSize":144,"symbolStrokeWidth":0,"symbolOpacity":1,"labelFontSize":11.5,"labelOffset":3,"labelLimit":400,"labelExpr":"datum.label === 'Missense' ? 'Missense mutation (unknown significance)' : datum.label === 'Truncating' ? 'Truncating mutation (unknown significance)' : datum.label"}}}},
   {"data":{"name":"alts"},"transform":[{"filter":"datum.t === 'Missense' || datum.t === 'Truncating'"}],"mark":{"type":"tick","thickness":3.3,"size":5,"opacity":1},"encoding":{"x":{"field":"s","type":"quantitative","scale":{"domain":[-16.04,127.36],"nice":false,"zero":false},"axis":null},"y":{"field":"gene","type":"nominal","sort":null,"scale":{"domain":["DLGAP5","CDC20","ASPM","CDK1","KIF23","KIF11","NCAPG","TTK","CCNA2","BUB1","CENPE"],"paddingInner":0.25,"paddingOuter":0.125},"axis":null},"color":{"field":"t","type":"nominal","scale":{"domain":["Missense","Truncating","Amplification","Deep deletion","No alterations"],"range":["#3DAA4C","#697F8E","#E8452C","#2E2C8E","#C9C9C9"]},"legend":{"orient":"none","legendX":0,"legendY":248.5,"title":"Genetic alteration","titleOrient":"left","titleAnchor":"start","titleBaseline":"bottom","titleFontSize":13.5,"titlePadding":28,"columns":2,"columnPadding":212,"rowPadding":5.5,"symbolType":"M-0.22,-1H0.22V1H-0.22Z","symbolSize":144,"symbolStrokeWidth":0,"symbolOpacity":1,"labelFontSize":11.5,"labelOffset":3,"labelLimit":400,"labelExpr":"datum.label === 'Missense' ? 'Missense mutation (unknown significance)' : datum.label === 'Truncating' ? 'Truncating mutation (unknown significance)' : datum.label"}}}},
   {"data":{"name":"genes"},"mark":{"type":"text","align":"left","fontSize":11.5,"color":"#111"},"encoding":{"x":{"datum":-16.04,"type":"quantitative","scale":{"domain":[-16.04,127.36],"nice":false,"zero":false},"axis":null},"y":{"field":"gene","type":"nominal","sort":null,"scale":{"domain":["DLGAP5","CDC20","ASPM","CDK1","KIF23","KIF11","NCAPG","TTK","CCNA2","BUB1","CENPE"],"paddingInner":0.25,"paddingOuter":0.125},"axis":null},"text":{"field":"gene"}}},
   {"data":{"name":"genes"},"mark":{"type":"text","align":"right","fontSize":11.5,"color":"#111"},"encoding":{"x":{"datum":-1.44,"type":"quantitative","scale":{"domain":[-16.04,127.36],"nice":false,"zero":false},"axis":null},"y":{"field":"gene","type":"nominal","sort":null,"scale":{"domain":["DLGAP5","CDC20","ASPM","CDK1","KIF23","KIF11","NCAPG","TTK","CCNA2","BUB1","CENPE"],"paddingInner":0.25,"paddingOuter":0.125},"axis":null},"text":{"field":"pct"}}}
  ]},
 {"width":6,"height":131.4,
  "data":{"values":[{"c":"Bladder Urothelial|Carcinoma","t":"Multiple alterations","lo":0,"hi":3},{"c":"Bladder Urothelial|Carcinoma","t":"Deep deletion","lo":3,"hi":6.5},{"c":"Bladder Urothelial|Carcinoma","t":"Amplification","lo":6.5,"hi":16},{"c":"Bladder Urothelial|Carcinoma","t":"Mutation","lo":16,"hi":37.6}]},
  "mark":{"type":"bar","width":4},
  "encoding":{
   "x":{"field":"c","type":"nominal","scale":{"paddingInner":0,"paddingOuter":0},"axis":{"title":null,"labelExpr":"split(datum.value, '|')","labelAngle":-90,"labelFontSize":6,"labelLineHeight":6.5,"tickSize":2,"domain":false,"labelPadding":1}},
   "y":{"field":"lo","type":"quantitative","scale":{"domain":[0,92.9],"nice":false},"title":"Alteration frequency","axis":{"values":[10,20,30],"labelExpr":"datum.value + '%'","domain":false,"tickSize":2,"labelFontSize":6,"titleFontSize":6,"titleAnchor":"start","titlePadding":2,"labelPadding":1,"labelOverlap":false}},
   "y2":{"field":"hi"},
   "color":{"field":"t","type":"nominal","scale":{"domain":["Mutation","Amplification","Deep deletion","Multiple alterations"],"range":["#27A04C","#E8452C","#3B3A96","#7D7D7D"]},"legend":{"orient":"none","legendX":-17,"legendY":197,"title":null,"symbolType":"circle","symbolSize":10,"labelFontSize":5.5,"rowPadding":0.5,"labelOffset":2,"symbolStrokeWidth":0}}
  }}
],"spacing":2,"title":{"text":"(g)","orient":"bottom","anchor":"middle","fontSize":13,"offset":14},"resolve":{"scale":{"color":"independent"},"legend":{"color":"independent"}}},
{"vconcat":[
{"hconcat":[
 {"width":175,"height":1,"data":{"values":[]},"mark":"point"},
 {"width":210,"height":197,
  "title":{"text":"(h)","orient":"bottom","fontSize":13,"offset":10,"dx":-5},
  "layer":[
   {"data":{"name":"edges"},"transform":[{"lookup":"a","from":{"data":{"name":"nodes"},"key":"n","fields":["x","y"]},"as":["xa","ya"]},{"lookup":"b","from":{"data":{"name":"nodes"},"key":"n","fields":["x","y"]},"as":["xb","yb"]}],
    "mark":{"type":"rule","color":"#3a3a3a","strokeWidth":1},
    "encoding":{"x":{"field":"xa","type":"quantitative","scale":{"domain":[0,210],"nice":false,"zero":false},"axis":null},"y":{"field":"ya","type":"quantitative","scale":{"domain":[-5,192],"reverse":true,"nice":false,"zero":false},"axis":null},"x2":{"field":"xb"},"y2":{"field":"yb"}}},
   {"data":{"name":"nodes"},"transform":[{"filter":"datum.n !== 'ASPM'"}],
    "mark":{"type":"point","shape":"M-1,0A1,0.66,0,1,0,1,0A1,0.66,0,1,0,-1,0Z","size":2116,"filled":true,"fill":"#ffffff","stroke":"#222222","strokeWidth":1,"opacity":1},
    "encoding":{"x":{"field":"x","type":"quantitative","scale":{"domain":[0,210],"nice":false,"zero":false},"axis":null},"y":{"field":"y","type":"quantitative","scale":{"domain":[-5,192],"reverse":true,"nice":false,"zero":false},"axis":null}}},
   {"data":{"name":"nodes"},"transform":[{"filter":"datum.n === 'ASPM'"}],
    "mark":{"type":"point","shape":"M-1,0A1,0.47,0,1,0,1,0A1,0.47,0,1,0,-1,0Z","size":2025,"filled":true,"fill":"#FFEC00","stroke":"#222222","strokeWidth":1,"opacity":1},
    "encoding":{"x":{"field":"x","type":"quantitative","scale":{"domain":[0,210],"nice":false,"zero":false},"axis":null},"y":{"field":"y","type":"quantitative","scale":{"domain":[-5,192],"reverse":true,"nice":false,"zero":false},"axis":null}}},
   {"data":{"name":"nodes"},"mark":{"type":"text","fontSize":10.5,"color":"#333"},
    "encoding":{"x":{"field":"x","type":"quantitative","scale":{"domain":[0,210],"nice":false,"zero":false},"axis":null},"y":{"field":"y","type":"quantitative","scale":{"domain":[-5,192],"reverse":true,"nice":false,"zero":false},"axis":null},"text":{"field":"n"}}}
  ]},
 {"width":185,"height":197,
  "title":{"text":"(i)","orient":"bottom","fontSize":13,"offset":8,"dx":-4},
  "layer":[
   {"data":{"name":"cc"},"mark":{"type":"rule","color":"#80B98B","strokeWidth":1.2},
    "encoding":{"x":{"field":"x","type":"quantitative","scale":{"domain":[0,185],"nice":false,"zero":false},"axis":null},"y":{"field":"y","type":"quantitative","scale":{"domain":[-5,192],"reverse":true,"nice":false,"zero":false},"axis":null},"x2":{"datum":97.3},"y2":{"datum":113.7}}},
   {"data":{"name":"hub"},"mark":{"type":"circle","size":5130,"color":"#80B98B","opacity":1},
    "encoding":{"x":{"field":"x","type":"quantitative","scale":{"domain":[0,185],"nice":false,"zero":false},"axis":null},"y":{"field":"y","type":"quantitative","scale":{"domain":[-5,192],"reverse":true,"nice":false,"zero":false},"axis":null}}},
   {"data":{"name":"cc"},"mark":{"type":"circle","size":75,"color":"#80B98B","opacity":1},
    "encoding":{"x":{"field":"x","type":"quantitative","scale":{"domain":[0,185],"nice":false,"zero":false},"axis":null},"y":{"field":"y","type":"quantitative","scale":{"domain":[-5,192],"reverse":true,"nice":false,"zero":false},"axis":null}}},
   {"data":{"name":"cc"},"mark":{"type":"text","dy":13,"fontSize":12.5,"font":"Liberation Sans","color":"#E8432D"},
    "encoding":{"x":{"field":"x","type":"quantitative","scale":{"domain":[0,185],"nice":false,"zero":false},"axis":null},"y":{"field":"y","type":"quantitative","scale":{"domain":[-5,192],"reverse":true,"nice":false,"zero":false},"axis":null},"text":{"field":"gene"}}},
   {"data":{"name":"hub"},"mark":{"type":"text","dy":48,"fontSize":19,"fontWeight":"bold","font":"Liberation Sans","color":"#72AF7E"},
    "encoding":{"x":{"field":"x","type":"quantitative","scale":{"domain":[0,185],"nice":false,"zero":false},"axis":null},"y":{"field":"y","type":"quantitative","scale":{"domain":[-5,192],"reverse":true,"nice":false,"zero":false},"axis":null},"text":{"field":"term"}}}
  ]}
],"spacing":15,"resolve":{"scale":{"color":"independent"},"legend":{"color":"independent"}}},
{"hconcat":[
 {"width":198,"height":1,"data":{"values":[]},"mark":"point"},
 {"width":138,"height":154,
  "title":{"text":"ASPM vs. BUB1","fontSize":9,"offset":1.5},
  "layer":[
   {"data":{"name":"scL"},"mark":{"type":"circle","size":16,"opacity":1},
    "encoding":{"x":{"field":"x","type":"quantitative","scale":{"domain":[5.66,13.5],"nice":false,"zero":false},"axis":{"values":[6,7,8,9,10,11,12,13],"grid":true,"gridDash":[1.2,3.3],"gridColor":"#222","labels":false,"ticks":false,"domain":false,"title":null}},
     "y":{"field":"y","type":"quantitative","scale":{"domain":[6.24,12.33],"nice":false,"zero":false},"title":["mRNA expression (RNA Seq V2 RSEM):","BUB1 (log₂)"],"axis":{"values":[7,8,9,10,11,12],"grid":true,"gridDash":[1.2,3.3],"gridColor":"#222","domainColor":"#555","domainWidth":2,"tickSize":3,"tickColor":"#555","labelFontSize":10,"labelPadding":2,"titleFontSize":8.5,"titleLineHeight":11,"titlePadding":3,"labelOverlap":false}},
     "color":{"field":"c","type":"nominal","scale":{"domain":["n","g","p"],"range":["#2B7BBA","#B8922C","#F2A0B6"]},"legend":null}}},
   {"data":{"name":"fitL"},"mark":{"type":"line","color":"#E4503E","strokeWidth":1.2},
    "encoding":{"x":{"field":"x","type":"quantitative","scale":{"domain":[5.66,13.5],"nice":false,"zero":false},"axis":{"values":[6,7,8,9,10,11,12,13],"grid":true,"gridDash":[1.2,3.3],"gridColor":"#222","labels":false,"ticks":false,"domain":false,"title":null}},"y":{"field":"y","type":"quantitative","scale":{"domain":[6.24,12.33],"nice":false,"zero":false},"title":["mRNA expression (RNA Seq V2 RSEM):","BUB1 (log₂)"],"axis":{"values":[7,8,9,10,11,12],"grid":true,"gridDash":[1.2,3.3],"gridColor":"#222","domainColor":"#555","domainWidth":2,"tickSize":3,"tickColor":"#555","labelFontSize":10,"labelPadding":2,"titleFontSize":8.5,"titleLineHeight":11,"titlePadding":3,"labelOverlap":false}}}},
   {"data":{"name":"annL"},"mark":{"type":"text","fontSize":8.5,"color":"#333"},
    "encoding":{"x":{"field":"x","type":"quantitative","scale":{"domain":[5.66,13.5],"nice":false,"zero":false},"axis":{"values":[6,7,8,9,10,11,12,13],"grid":true,"gridDash":[1.2,3.3],"gridColor":"#222","labels":false,"ticks":false,"domain":false,"title":null}},"y":{"field":"y","type":"quantitative","scale":{"domain":[6.24,12.33],"nice":false,"zero":false},"title":["mRNA expression (RNA Seq V2 RSEM):","BUB1 (log₂)"],"axis":{"values":[7,8,9,10,11,12],"grid":true,"gridDash":[1.2,3.3],"gridColor":"#222","domainColor":"#555","domainWidth":2,"tickSize":3,"tickColor":"#555","labelFontSize":10,"labelPadding":2,"titleFontSize":8.5,"titleLineHeight":11,"titlePadding":3,"labelOverlap":false}},"text":{"field":"t"}}}
  ]},
 {"width":144,"height":154,
  "title":{"text":"ASPM vs. CCNA2","fontSize":9,"offset":3.8},
  "layer":[
   {"data":{"name":"scR"},"mark":{"type":"circle","size":16,"opacity":1},
    "encoding":{"x":{"field":"x","type":"quantitative","scale":{"domain":[5.6,13.74],"nice":false,"zero":false},"axis":{"values":[6,7,8,9,10,11,12,13],"grid":true,"gridDash":[1.2,3.3],"gridColor":"#222","labels":false,"ticks":false,"domain":false,"title":null}},
     "y":{"field":"y","type":"quantitative","scale":{"domain":[6.18,12.675],"nice":false,"zero":false},"title":["mRNA expression (RNA Seq V2 RSEM):","BUB1 (log₂)"],"axis":{"values":[7,8,9,10,11,12],"grid":true,"gridDash":[1.2,3.3],"gridColor":"#222","domainColor":"#555","domainWidth":2,"tickSize":3,"tickColor":"#555","labelFontSize":10,"labelPadding":2,"titleFontSize":8.5,"titleLineHeight":11,"titlePadding":3,"labelOverlap":false}},
     "color":{"field":"c","type":"nominal","scale":{"domain":["n","g","p"],"range":["#2B7BBA","#B8922C","#F2A0B6"]},"legend":null}}},
   {"data":{"name":"fitR"},"mark":{"type":"line","color":"#E4503E","strokeWidth":1.2},
    "encoding":{"x":{"field":"x","type":"quantitative","scale":{"domain":[5.6,13.74],"nice":false,"zero":false},"axis":{"values":[6,7,8,9,10,11,12,13],"grid":true,"gridDash":[1.2,3.3],"gridColor":"#222","labels":false,"ticks":false,"domain":false,"title":null}},"y":{"field":"y","type":"quantitative","scale":{"domain":[6.18,12.675],"nice":false,"zero":false},"title":["mRNA expression (RNA Seq V2 RSEM):","BUB1 (log₂)"],"axis":{"values":[7,8,9,10,11,12],"grid":true,"gridDash":[1.2,3.3],"gridColor":"#222","domainColor":"#555","domainWidth":2,"tickSize":3,"tickColor":"#555","labelFontSize":10,"labelPadding":2,"titleFontSize":8.5,"titleLineHeight":11,"titlePadding":3,"labelOverlap":false}}}},
   {"data":{"name":"annR"},"mark":{"type":"text","fontSize":8.5,"color":"#333"},
    "encoding":{"x":{"field":"x","type":"quantitative","scale":{"domain":[5.6,13.74],"nice":false,"zero":false},"axis":{"values":[6,7,8,9,10,11,12,13],"grid":true,"gridDash":[1.2,3.3],"gridColor":"#222","labels":false,"ticks":false,"domain":false,"title":null}},"y":{"field":"y","type":"quantitative","scale":{"domain":[6.18,12.675],"nice":false,"zero":false},"title":["mRNA expression (RNA Seq V2 RSEM):","BUB1 (log₂)"],"axis":{"values":[7,8,9,10,11,12],"grid":true,"gridDash":[1.2,3.3],"gridColor":"#222","domainColor":"#555","domainWidth":2,"tickSize":3,"tickColor":"#555","labelFontSize":10,"labelPadding":2,"titleFontSize":8.5,"titleLineHeight":11,"titlePadding":3,"labelOverlap":false}},"text":{"field":"t"}}}
  ]}
],"spacing":20,"resolve":{"scale":{"color":"independent"},"legend":{"color":"independent"}}}
],"spacing":8.5,"resolve":{"scale":{"color":"independent"},"legend":{"color":"independent"}}}
],
"config":{
 "view":{"stroke":"transparent"},
 "font":"Liberation Serif",
 "axis":{"labelFont":"Liberation Serif","titleFont":"Liberation Serif","labelColor":"#1a1a1a","titleColor":"#1a1a1a","domainColor":"#1a1a1a","tickColor":"#1a1a1a","titleFontWeight":"normal","grid":false},
 "axisY":{"labelOverlap":false},
 "title":{"font":"Liberation Serif","fontWeight":"normal","color":"#1a1a1a"},
 "legend":{"labelFont":"Liberation Serif","titleFont":"Liberation Serif","titleFontWeight":"normal","labelColor":"#1a1a1a","titleColor":"#1a1a1a"},
 "text":{"font":"Liberation Serif"}
}
}
